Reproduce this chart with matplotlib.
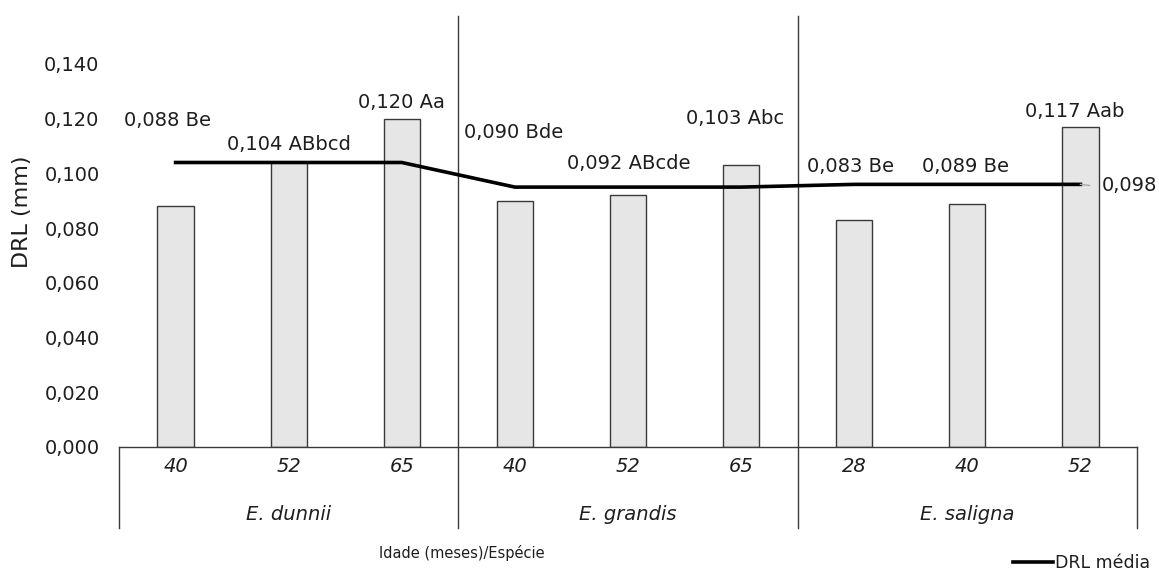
import matplotlib
matplotlib.use("Agg")
import matplotlib.pyplot as plt
from matplotlib.lines import Line2D

# Data
species = ["E. dunnii", "E. grandis", "E. saligna"]
ages = ["40", "52", "65", "40", "52", "65", "28", "40", "52"]
drl = [0.088, 0.104, 0.120, 0.090, 0.092, 0.103, 0.083, 0.089, 0.117]
letters = ["Be", "ABbcd", "Aa", "Bde", "ABcde", "Abc", "Be", "Be", "Aab"]
drl_mean = [0.104, 0.104, 0.104, 0.095, 0.095, 0.095, 0.096, 0.096, 0.096]
overall_mean = 0.098
yticks = [0.000, 0.020, 0.040, 0.060, 0.080, 0.100, 0.120, 0.140]

# Label placement offsets (category units, value units) relative to each bar
label_dx = [-0.07, 0.0, 0.0, -0.01, 0.01, -0.05, -0.03, -0.02, -0.05]
label_dy = [0.0315, 0.0064, 0.0061, 0.0248, 0.0118, 0.0172, 0.0197, 0.0137, 0.0058]

W, H = 1159, 571
fig = plt.figure(figsize=(W / 100, H / 100), dpi=100)
plt.rcParams["font.family"] = ["DejaVu Sans"]
txt = "#1e1e1e"
fs = 14

x0, x1, y0, y1 = 119, 1137, 447, 16
ax = fig.add_axes([x0 / W, 1 - y0 / H, (x1 - x0) / W, (y0 - y1) / H])
ymax = 0.140 * (y0 - y1) / (447 - 64)
ax.set_xlim(-0.5, len(drl) - 0.5)
ax.set_ylim(0, ymax)

x = list(range(len(drl)))
ax.bar(x, drl, width=0.32, color="#e6e6e6", edgecolor="#3a3a3a", linewidth=1.0, zorder=2)
line, = ax.plot(x, drl_mean, color="black", linewidth=2.6, zorder=3, label="DRL média")

for i, (v, l) in enumerate(zip(drl, letters)):
    ax.text(i + label_dx[i], v + label_dy[i], f"{v:.3f}".replace(".", ",") + " " + l,
            ha="center", va="center", fontsize=fs, color=txt, zorder=4)

# overall mean label with short leader
ax.plot([x[-1], x[-1] + 0.08], [drl_mean[-1], drl_mean[-1] - 0.0004], color="#aaaaaa", lw=1, zorder=3)
ax.text(x[-1] + 0.19, drl_mean[-1] - 0.0005, f"{overall_mean:.3f}".replace(".", ","),
        ha="left", va="center", fontsize=fs, color=txt, zorder=4)

ax.set_yticks(yticks)
ax.set_yticklabels([f"{t:.3f}".replace(".", ",") for t in yticks], fontsize=fs, color=txt)
ax.tick_params(axis="y", length=0, pad=14)
ax.set_xticks([])
for s in ["left", "right", "top"]:
    ax.spines[s].set_visible(False)
ax.spines["bottom"].set_color("#3a3a3a")
ax.spines["bottom"].set_linewidth(1.0)

# Multi-level category axis
tr = ax.get_xaxis_transform()
ybot = -(528 - 447) / (y0 - y1)
edge = dict(color="#3a3a3a", lw=1.0, clip_on=False, transform=tr)
ax.add_line(Line2D([-0.5, -0.5], [ybot, 0], **edge))
ax.add_line(Line2D([len(drl) - 0.5, len(drl) - 0.5], [ybot, 0], **edge))
for d in (2.5, 5.5):
    ax.add_line(Line2D([d, d], [ybot, 1.0], **edge))

y_age = -(467 - 447) / (y0 - y1)
y_sp = -(514 - 447) / (y0 - y1)
for i, a in enumerate(ages):
    ax.text(i, y_age, a, transform=tr, ha="center", va="center", fontsize=fs,
            style="italic", color=txt)
for j, s in enumerate(species):
    ax.text(3 * j + 1, y_sp, s, transform=tr, ha="center", va="center", fontsize=fs,
            style="italic", color=txt)

fig.text(462 / W, 1 - 553 / H, "Idade (meses)/Espécie", ha="center", va="center",
         fontsize=10.5, color=txt)
fig.text(22 / W, 1 - 212 / H, "DRL (mm)", ha="center", va="center", rotation=90,
         fontsize=16, color=txt)

fig.legend(handles=[line], loc="center right", bbox_to_anchor=(1150 / W, 1 - 563 / H),
           frameon=False, fontsize=12.5, handlelength=2.3, handletextpad=0.1,
           borderpad=0, borderaxespad=0, labelcolor=txt)

fig.savefig("out.png", dpi=100, facecolor="white")
